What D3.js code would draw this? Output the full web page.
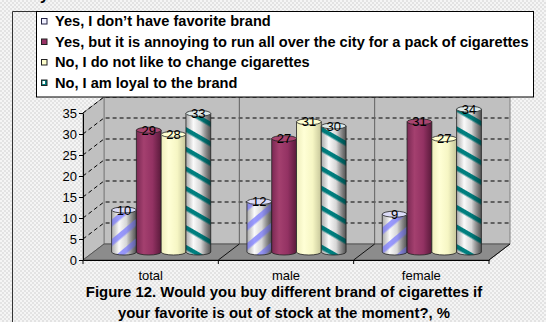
<!DOCTYPE html>
<html><head><meta charset="utf-8">
<script src="https://cdn.jsdelivr.net/npm/d3@7"></script>
<style>body{margin:0;overflow:hidden;background:#fff} svg{display:block} text{font-family:"Liberation Sans",Arial,sans-serif}</style>
</head><body><svg id="c" width="546" height="322"></svg>
<script>
const categories = ["total", "male", "female"];
const seriesNames = [
  "Yes, I don’t have favorite brand",
  "Yes, but it is annoying to run all over the city for a pack of cigarettes",
  "No, I do not like to change cigarettes",
  "No, I am loyal to the brand"
];
const seriesNoFavorite = [10, 12, 9];
const seriesAnnoying = [29, 27, 31];
const seriesNoChange = [28, 31, 27];
const seriesLoyal = [33, 30, 34];
const yTicks = [0, 5, 10, 15, 20, 25, 30, 35];
const captionLines = [
  "Figure 12. Would you buy different brand of cigarettes if",
  "your favorite is out of stock at the moment?, %"
];

const series = [seriesNoFavorite, seriesAnnoying, seriesNoChange, seriesLoyal];
const svg = d3.select("#c");
const defs = svg.append("defs");

// background checker
const chk = defs.append("pattern").attr("id", "chk").attr("width", 4).attr("height", 4).attr("patternUnits", "userSpaceOnUse");
chk.append("rect").attr("width", 4).attr("height", 4).attr("fill", "#e3e3e3");
chk.append("rect").attr("width", 2).attr("height", 2).attr("fill", "#f5f5f5");
chk.append("rect").attr("x", 2).attr("y", 2).attr("width", 2).attr("height", 2).attr("fill", "#f5f5f5");
svg.append("rect").attr("width", 546).attr("height", 322).attr("fill", "url(#chk)");

// clipped glyph from previous line of the page
svg.append("text").attr("x", 40).attr("y", 0).attr("font-size", 16).attr("font-weight", "bold").text("y");

// frame
svg.append("path").attr("d", "M12.5,322 V11.5 H40").attr("fill", "none").attr("stroke", "#333");

const X0 = 83, X1 = 489, DX = 21, DY = -16;
const y = d3.scaleLinear().domain([0, 35]).range([260, 113]);
const x = d3.scaleBand().domain(categories).range([X0, X1]);
const xs = d3.scaleBand().domain(d3.range(series.length)).range([0, x.bandwidth()]).paddingOuter(0.73);

const line = d3.line();
const poly = pts => line(pts) + "Z";

// walls & floor
svg.append("path").attr("d", poly([[X0 + DX, y(35) + DY], [X1 + DX, y(35) + DY], [X1 + DX, y(0) + DY], [X0 + DX, y(0) + DY]]))
  .attr("fill", "#c0c0c0").attr("stroke", "#808080");
svg.append("path").attr("d", poly([[X0, y(35)], [X0 + DX, y(35) + DY], [X0 + DX, y(0) + DY], [X0, y(0)]]))
  .attr("fill", "#c0c0c0").attr("stroke", "#808080");
svg.append("path").attr("d", poly([[X0, y(0)], [X1, y(0)], [X1 + DX, y(0) + DY], [X0 + DX, y(0) + DY]]))
  .attr("fill", "#8c8c8c").attr("stroke", "#555");

// gridlines
const grid = svg.append("g").attr("stroke", "#000").attr("stroke-dasharray", "4,3").attr("fill", "none");
yTicks.filter(v => v > 0).forEach(v => {
  grid.append("path").attr("d", line([[X0, y(v)], [X0 + DX, y(v) + DY], [X1 + DX, y(v) + DY]]));
});
// back wall dividers + floor dividers
categories.slice(1).forEach(c => {
  svg.append("line").attr("x1", x(c) + DX).attr("x2", x(c) + DX).attr("y1", y(35) + DY).attr("y2", y(0) + DY).attr("stroke", "#606060");
});
categories.slice(1).concat([null]).forEach(c => {
  const xx = c === null ? X1 : x(c);
  svg.append("line").attr("x1", xx).attr("y1", y(0)).attr("x2", xx + DX).attr("y2", y(0) + DY).attr("stroke", "#111");
});

// gradients
function hGrad(id, stops) {
  const g = defs.append("linearGradient").attr("id", id).attr("x1", 0).attr("x2", 1).attr("y1", 0).attr("y2", 0);
  stops.forEach(s => g.append("stop").attr("offset", s[0]).attr("stop-color", s[1]).attr("stop-opacity", s[2] == null ? 1 : s[2]));
}
hGrad("gStripeBase", [[0, "#c4c4c4"], [0.3, "#fafafa"], [0.6, "#e2e2e2"], [1, "#8a8a8a"]]);
hGrad("gPlum", [[0, "#7a2953"], [0.3, "#a4406f"], [0.65, "#933263"], [1, "#5a1a3b"]]);
hGrad("gYellow", [[0, "#eeeebc"], [0.3, "#ffffd6"], [0.65, "#f6f6c4"], [1, "#c6c69a"]]);
hGrad("gShade", [[0, "#000", 0.12], [0.3, "#000", 0], [0.6, "#000", 0.05], [1, "#000", 0.4]]);

function stripes(id, color, angle, period, thick) {
  const p = defs.append("pattern").attr("id", id).attr("patternUnits", "userSpaceOnUse")
    .attr("width", 40).attr("height", period).attr("patternTransform", `rotate(${angle})`);
  p.append("rect").attr("width", 40).attr("height", thick).attr("fill", color);
}
stripes("pBlue", "#9a9aff", -40, 15, 5.5);
stripes("pTeal", "#008080", 30, 17, 4.5);

const styles = [
  {base: "url(#gStripeBase)", over: "url(#pBlue)", top: "#dcdcf8"},
  {base: "url(#gPlum)", over: null, top: "#a8446f"},
  {base: "url(#gYellow)", over: null, top: "#ffffd0"},
  {base: "url(#gStripeBase)", over: "url(#pTeal)", top: "#dce8e8"}
];

// bars (cylinders)
const bw = xs.bandwidth(), ry = 3;
const barsG = svg.append("g");
const labels = [];
categories.forEach((c, ci) => {
  series.forEach((s, si) => {
    const v = s[ci];
    const left = x(c) + xs(si) + DX / 2, right = left + bw;
    const top = y(v) + DY / 2, bot = y(0) + DY / 2;
    const d = `M${left},${top} L${left},${bot} A${bw / 2},${ry} 0 0 0 ${right},${bot} L${right},${top} Z`;
    const st = styles[si];
    barsG.append("path").attr("d", d).attr("fill", st.base);
    if (st.over) {
      barsG.append("path").attr("d", d).attr("fill", st.over);
      barsG.append("path").attr("d", d).attr("fill", "url(#gShade)");
    }
    barsG.append("path").attr("d", d).attr("fill", "none").attr("stroke", "#222").attr("stroke-width", 0.8);
    barsG.append("ellipse").attr("cx", left + bw / 2).attr("cy", top).attr("rx", bw / 2).attr("ry", ry)
      .attr("fill", st.top).attr("stroke", "#222").attr("stroke-width", 0.8);
    labels.push({x: left + bw / 2, y: top, v});
  });
});
svg.append("g").selectAll("text").data(labels).join("text")
  .attr("x", d => d.x).attr("y", d => d.y + 4.5).attr("text-anchor", "middle")
  .attr("font-size", 13).attr("fill", "#000").text(d => d.v);

// axes
const yAxis = d3.axisLeft(y).tickValues(yTicks).tickSize(4).tickSizeOuter(0).tickPadding(2);
svg.append("g").attr("transform", `translate(${X0},0)`).call(yAxis)
  .call(g => g.attr("font-family", null).attr("font-size", 13))
  .call(g => g.selectAll("text").attr("fill", "#000"))
  .call(g => g.selectAll("line,path").attr("stroke", "#000"));

const xAxis = d3.axisBottom(x).tickSize(0).tickSizeOuter(0).tickPadding(11);
svg.append("g").attr("transform", `translate(0,${y(0)})`).call(xAxis)
  .call(g => g.attr("font-family", null).attr("font-size", 13))
  .call(g => g.selectAll("text").attr("fill", "#000"))
  .call(g => g.select(".domain").attr("stroke", "#000"));
categories.map(c => x(c)).concat([X1]).forEach(xx => {
  svg.append("line").attr("x1", xx).attr("x2", xx).attr("y1", y(0)).attr("y2", y(0) + 4).attr("stroke", "#000");
});

// legend
svg.append("rect").attr("x", 36.5).attr("y", 11.5).attr("width", 497).attr("height", 85.5)
  .attr("fill", "#fff").attr("stroke", "#000");
const lg = svg.append("g");
const markerFill = ["#f0f0ff", "#993366", "#ffffcc", "#008080"];
seriesNames.forEach((n, i) => {
  const by = 26 + i * 20.5;
  lg.append("rect").attr("x", 41.5).attr("y", by - 7.5).attr("width", 5.5).attr("height", 5.5)
    .attr("fill", markerFill[i]).attr("stroke", i === 0 ? "#224" : "#222");
  if (i === 3) lg.append("rect").attr("x", 42.5).attr("y", by - 6.5).attr("width", 2.5).attr("height", 3).attr("fill", "#fff");
  lg.append("text").attr("class", "lt").attr("x", 55).attr("y", by).attr("font-weight", "bold")
    .attr("font-size", 12).attr("fill", "#000").text(n);
});
// fit legend font to reference width
const lts = lg.selectAll("text.lt");
const w1 = lts.nodes()[1].getComputedTextLength();
const lfs = 12 * 474 / w1;
lts.attr("font-size", lfs);

// caption
const cap = svg.append("g").selectAll("text").data(captionLines).join("text")
  .attr("x", 284).attr("y", (d, i) => 297 + i * 20.5).attr("text-anchor", "middle")
  .attr("font-weight", "bold").attr("font-size", 13).attr("fill", "#000").text(d => d);
const cw = cap.nodes()[0].getComputedTextLength();
cap.attr("font-size", 13 * 397 / cw);
</script>
</body></html>
